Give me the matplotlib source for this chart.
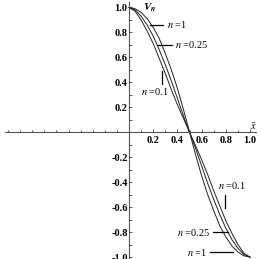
import numpy as np
import matplotlib
matplotlib.use("Agg")
import matplotlib.pyplot as plt

# values
x = [0.0, 0.05, 0.1, 0.15, 0.2, 0.25, 0.3, 0.35, 0.4, 0.45, 0.5,
     0.55, 0.6, 0.65, 0.7, 0.75, 0.8, 0.85, 0.9, 0.95, 1.0]
v_n1 = [1.0, 0.99, 0.96, 0.91, 0.84, 0.75, 0.63, 0.50, 0.35, 0.18, 0.0,
        -0.18, -0.35, -0.50, -0.63, -0.75, -0.84, -0.91, -0.96, -0.99, -1.0]
v_n025 = [1.0, 0.98, 0.93, 0.86, 0.77, 0.66, 0.54, 0.41, 0.27, 0.13, 0.0,
          -0.13, -0.27, -0.41, -0.54, -0.66, -0.77, -0.86, -0.93, -0.98, -1.0]
v_n01 = [1.0, 0.97, 0.90, 0.81, 0.71, 0.59, 0.47, 0.34, 0.22, 0.11, 0.0,
         -0.11, -0.22, -0.34, -0.47, -0.59, -0.71, -0.81, -0.90, -0.97, -1.0]
xtick_vals = [0.2, 0.4, 0.6, 0.8, 1.0]
ytick_vals = [-1.0, -0.8, -0.6, -0.4, -0.2, 0.2, 0.4, 0.6, 0.8, 1.0]

plt.rcParams['font.family'] = ['Liberation Serif', 'DejaVu Serif']
plt.rcParams['mathtext.fontset'] = 'stix'

fig = plt.figure(figsize=(2.61, 2.59), dpi=100)
ax = fig.add_axes([0, 0, 1, 1])
ax.patch.set_alpha(0)

lc = '#222222'
ax.plot(x, v_n1, color=lc, lw=0.7)
ax.plot(x, v_n025, color=lc, lw=0.7)
ax.plot(x, v_n01, color=lc, lw=0.7)

ax.set_xlim(-1.066, 1.09)
ax.set_ylim(-1.015, 1.06)

for s in ['top', 'right']:
	ax.spines[s].set_visible(False)
ax.spines['left'].set_position(('data', 0))
ax.spines['bottom'].set_position(('data', 0))
ax.spines['bottom'].set_bounds(-1.025, 1.05)
ax.spines['left'].set_bounds(-1.03, 1.04)
for s in ['left', 'bottom']:
	ax.spines[s].set_color('#555555')
	ax.spines[s].set_linewidth(0.8)

ax.set_xticks(xtick_vals)
ax.set_xticklabels(['%.1f' % t for t in xtick_vals])
ax.set_xticks(np.round(np.arange(-1.0, 1.01, 0.1), 1), minor=True)
ax.set_yticks(ytick_vals)
ax.set_yticklabels(['%.1f' % t for t in ytick_vals])
ax.set_yticks(np.round(np.arange(-1.0, 1.01, 0.1), 1), minor=True)
ax.tick_params(which='both', direction='in', color='#555555', width=0.7)
ax.tick_params(which='major', length=2.5)
ax.tick_params(which='minor', length=1.8)
ax.tick_params(axis='x', pad=3, labelsize=7.5)
ax.tick_params(axis='y', pad=1, labelsize=7.5)
for lab in ax.get_xticklabels() + ax.get_yticklabels():
	lab.set_fontweight('bold')

ax.text(0.115, 1.0, r'$\mathbfit{V}_{\mathbfit{n}}$', fontsize=8, ha='left', va='center')
ax.text(1.03, 0.05, r'$\bar{x}$', fontsize=7.5, ha='center', va='center')

fs = 7.5
# top labels
ax.plot([0.17, 0.28], [0.86, 0.86], color='k', lw=0.9)
ax.text(0.31, 0.86, r'$n$ =1', fontsize=fs, ha='left', va='center')
ax.plot([0.23, 0.355], [0.70, 0.70], color='k', lw=0.9)
ax.text(0.38, 0.70, r'$n$ =0.25', fontsize=fs, ha='left', va='center')
ax.plot([0.27, 0.27], [0.49, 0.39], color='k', lw=0.9)
ax.text(0.215, 0.33, r'$n$ =0.1', fontsize=fs, ha='center', va='center')
# bottom labels
ax.text(0.735, -0.43, r'$n$ =0.1', fontsize=fs, ha='left', va='center')
ax.plot([0.79, 0.79], [-0.50, -0.61], color='k', lw=0.9)
ax.text(0.67, -0.80, r'$n$ =0.25', fontsize=fs, ha='right', va='center')
ax.plot([0.69, 0.82], [-0.80, -0.80], color='k', lw=0.9)
ax.text(0.645, -0.96, r'$n$ =1', fontsize=fs, ha='right', va='center')
ax.plot([0.67, 0.86], [-0.96, -0.96], color='k', lw=0.9)

fig.savefig('out.png', dpi=100)
